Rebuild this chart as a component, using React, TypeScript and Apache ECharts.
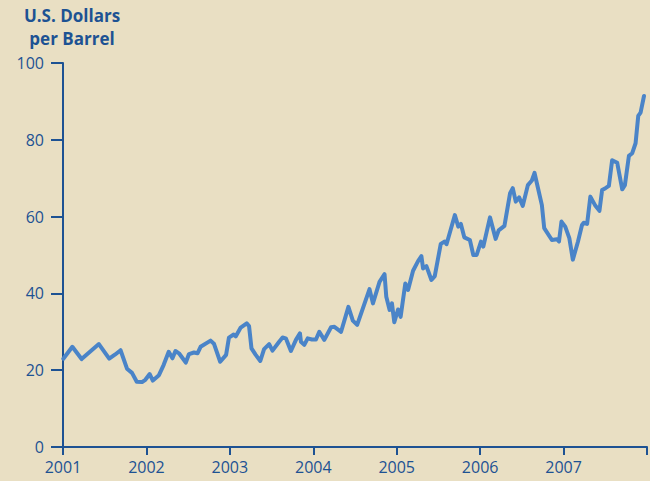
import React, { useEffect, useRef } from "react";
import * as echarts from "echarts";

// Fractional years (2001.0 = start of 2001)
const years: number[] = [
  2001.004, 2001.112, 2001.223, 2001.43, 2001.554, 2001.626, 2001.69, 2001.767, 2001.827, 2001.884,
  2001.947, 2001.987, 2002.039, 2002.077, 2002.15, 2002.207, 2002.267, 2002.312, 2002.348, 2002.39,
  2002.472, 2002.51, 2002.57, 2002.612, 2002.649, 2002.769, 2002.809, 2002.884, 2002.955, 2002.989,
  2003.046, 2003.07, 2003.13, 2003.202, 2003.23, 2003.259, 2003.31, 2003.365, 2003.41, 2003.471,
  2003.511, 2003.591, 2003.632, 2003.671, 2003.732, 2003.792, 2003.84, 2003.852, 2003.892, 2003.933,
  2003.984, 2004.032, 2004.072, 2004.132, 2004.213, 2004.253, 2004.333, 2004.421, 2004.474, 2004.526,
  2004.674, 2004.715, 2004.794, 2004.854, 2004.875, 2004.915, 2004.943, 2004.971, 2005.016, 2005.047,
  2005.103, 2005.136, 2005.196, 2005.256, 2005.296, 2005.316, 2005.356, 2005.416, 2005.456, 2005.528,
  2005.576, 2005.597, 2005.697, 2005.738, 2005.769, 2005.81, 2005.877, 2005.918, 2005.958, 2006.01,
  2006.038, 2006.118, 2006.186, 2006.222, 2006.291, 2006.359, 2006.391, 2006.427, 2006.467, 2006.511,
  2006.572, 2006.62, 2006.652, 2006.68, 2006.74, 2006.768, 2006.86, 2006.921, 2006.945, 2006.975,
  2007.02, 2007.069, 2007.111, 2007.173, 2007.221, 2007.242, 2007.282, 2007.321, 2007.382, 2007.43,
  2007.462, 2007.502, 2007.543, 2007.582, 2007.643, 2007.703, 2007.735, 2007.783, 2007.823, 2007.863,
  2007.895, 2007.923, 2007.964,
];

// U.S. dollars per barrel
const prices: number[] = [
  23.0, 26.1, 22.9, 26.8, 23.0, 24.1, 25.2, 20.4, 19.3, 17.0,
  16.9, 17.5, 19.0, 17.3, 18.7, 21.4, 24.8, 23.1, 25.0, 24.4,
  22.0, 24.2, 24.6, 24.4, 26.1, 27.7, 26.9, 22.2, 24.0, 28.5,
  29.3, 28.8, 31.1, 32.2, 31.5, 25.7, 24.0, 22.4, 25.5, 26.8,
  25.1, 27.4, 28.5, 28.3, 25.0, 27.9, 29.6, 27.4, 26.6, 28.3,
  28.0, 28.0, 30.0, 27.9, 31.2, 31.3, 30.0, 36.5, 32.9, 31.8,
  41.1, 37.4, 43.0, 45.0, 39.1, 35.7, 37.4, 32.5, 35.8, 33.9,
  42.6, 40.9, 45.9, 48.4, 49.7, 46.5, 47.1, 43.5, 44.5, 52.9,
  53.5, 52.8, 60.4, 57.4, 58.1, 54.6, 53.9, 50.0, 50.0, 53.5,
  52.2, 59.8, 54.2, 56.4, 57.6, 66.1, 67.4, 63.9, 65.0, 62.8,
  68.2, 69.4, 71.4, 68.7, 63.0, 57.0, 53.9, 54.1, 53.5, 58.7,
  57.4, 54.4, 48.8, 53.5, 57.8, 58.4, 58.1, 65.2, 62.8, 61.5,
  66.9, 67.4, 68.0, 74.7, 74.0, 67.1, 68.2, 75.8, 76.5, 79.1,
  86.2, 87.1, 91.4,
];

const titleLines: string[] = ["U.S. Dollars", "per Barrel"];

const BG = "#e9dfc3";
const AXIS = "#1d5293";
const LINE = "#4a84c8";

export default function App() {
  const ref = useRef<HTMLDivElement>(null);

  useEffect(() => {
    if (!ref.current) return;
    const chart = echarts.init(ref.current, null, { renderer: "svg" });
    const data = years.map((y, i) => [y, prices[i]]);
    chart.setOption({
      animation: false,
      backgroundColor: BG,
      textStyle: { fontFamily: "Open Sans" },
      grid: { left: 63, right: 3, top: 63, bottom: 34, containLabel: false },
      graphic: titleLines.map((t, i) => ({
        type: "text",
        x: 72,
        y: 7 + i * 23,
        style: {
          text: t,
          fill: AXIS,
          font: "bold 17px 'Open Sans'",
          textAlign: "center",
          textVerticalAlign: "top",
        },
      })),
      xAxis: {
        type: "value",
        min: 2001,
        max: 2008,
        interval: 1,
        axisLine: { show: true, lineStyle: { color: AXIS, width: 2 } },
        axisTick: { show: true, length: 8, inside: false, lineStyle: { color: AXIS, width: 2 } },
        axisLabel: {
          color: AXIS,
          fontSize: 16,
          margin: 12,
          fontFamily: "Open Sans",
          formatter: (v: number) => (v === 2008 ? "" : String(v)),
        },
        splitLine: { show: false },
      },
      yAxis: {
        type: "value",
        min: 0,
        max: 100,
        interval: 20,
        axisLine: { show: true, lineStyle: { color: AXIS, width: 2 } },
        axisTick: { show: true, length: 12, inside: false, lineStyle: { color: AXIS, width: 2 } },
        axisLabel: { color: AXIS, fontSize: 16, margin: 19, fontFamily: "Open Sans" },
        splitLine: { show: false },
      },
      series: [
        {
          type: "line",
          data,
          showSymbol: false,
          smooth: false,
          lineStyle: { color: LINE, width: 4, join: "round", cap: "round" },
          itemStyle: { color: LINE },
        },
      ],
    });
    return () => chart.dispose();
  }, []);

  return (
    <div
      ref={ref}
      style={{ position: "fixed", left: 0, top: 0, width: 650, height: 481, background: BG }}
    />
  );
}
